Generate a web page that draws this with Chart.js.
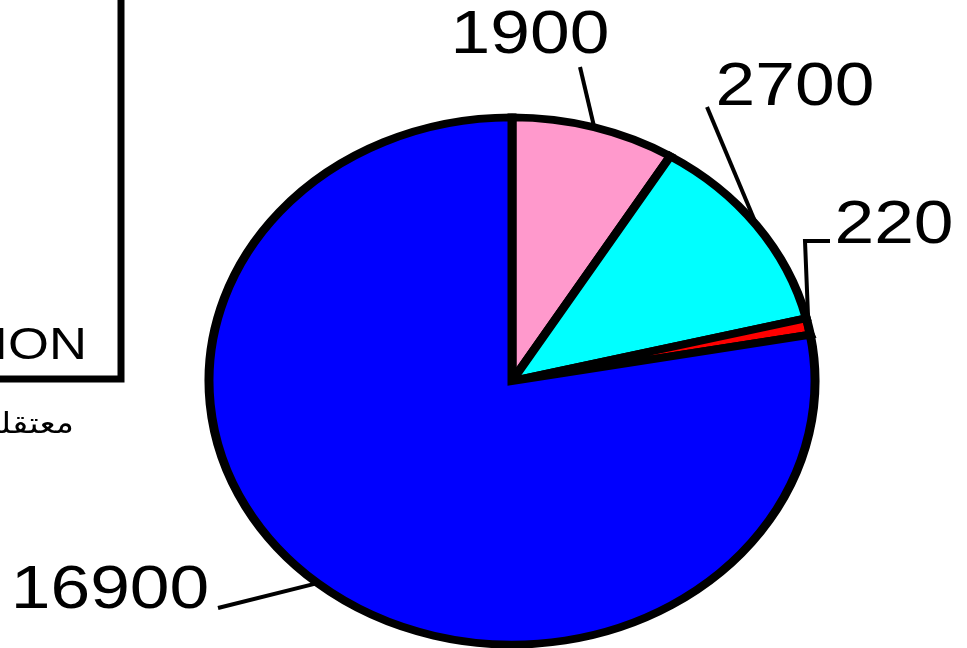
<!DOCTYPE html>
<html>
<head>
<meta charset="utf-8">
<script src="https://cdn.jsdelivr.net/npm/chart.js@4.4.0/dist/chart.umd.min.js"></script>
<style>
  html, body { margin: 0; padding: 0; background: #fff; overflow: hidden; }
  #wrap { width: 967px; height: 648px; position: relative; }
</style>
</head>
<body>
<div id="wrap"><canvas id="chart" width="967" height="648"></canvas></div>
<script>
const categories = ["1", "2", "3", "4"];
const values = [1900, 2700, 220, 16900];
const valueLabels = ["1900", "2700", "220", "16900"];
const colors = ["#FF99CC", "#00FFFF", "#FF0000", "#0000FF"];
const legendText = "ION";
const noteText = "معتقلين";

// where each value label sits (centre, baseline) and the leader path from the text to the slice
const labelPos = [
  { x: 530, y: 53, leader: [[580, 67]] },
  { x: 795, y: 105, leader: [[707, 107]] },
  { x: 894, y: 243, leader: [[830, 241], [805, 241]] },
  { x: 110, y: 608, leader: [[218, 608]] },
];

const squashY = 0.87;   // the pie is an ellipse in the picture
const stretchX = 1.17;  // text is stretched horizontally too

function wideText(ctx, text, x, y, font, align) {
  ctx.save();
  ctx.translate(x, y);
  ctx.scale(stretchX, 1);
  ctx.font = font;
  ctx.textAlign = align;
  ctx.textBaseline = "alphabetic";
  ctx.fillStyle = "#000";
  ctx.fillText(text, 0, 0);
  ctx.restore();
}

const squash = {
  id: "squash",
  beforeDatasetsDraw(chart) {
    const arc = chart.getDatasetMeta(0).data[0];
    const ctx = chart.ctx;
    ctx.save();
    ctx.translate(arc.x, arc.y);
    ctx.scale(1, squashY);
    ctx.translate(-arc.x, -arc.y);
  },
  afterDatasetsDraw(chart) {
    chart.ctx.restore();
  }
};

const annotate = {
  id: "annotate",
  afterDraw(chart) {
    const ctx = chart.ctx;
    const arcs = chart.getDatasetMeta(0).data;

    // leader lines + value labels
    arcs.forEach((arc, i) => {
      const p = labelPos[i];
      const mid = (arc.startAngle + arc.endAngle) / 2;
      const ax = arc.x + arc.outerRadius * Math.cos(mid);
      const ay = arc.y + arc.outerRadius * Math.sin(mid) * squashY;
      ctx.save();
      ctx.strokeStyle = "#000";
      ctx.lineWidth = 4;
      ctx.beginPath();
      ctx.moveTo(p.leader[0][0], p.leader[0][1]);
      p.leader.slice(1).forEach(pt => ctx.lineTo(pt[0], pt[1]));
      ctx.lineTo(ax, ay);
      ctx.stroke();
      ctx.restore();
      wideText(ctx, valueLabels[i], p.x, p.y, '61px "Liberation Sans", Arial, sans-serif', "center");
    });

    // legend box, mostly outside the picture
    ctx.save();
    ctx.strokeStyle = "#000";
    ctx.lineWidth = 7;
    ctx.strokeRect(-40, -40, 161, 419);
    ctx.restore();
    wideText(ctx, legendText, 87, 359, '45px "Liberation Sans", Arial, sans-serif', "right");

    ctx.save();
    ctx.direction = "rtl";
    wideText(ctx, noteText, 74, 433, '29px "DejaVu Sans", sans-serif', "right");
    ctx.restore();
  }
};

new Chart(document.getElementById("chart"), {
  type: "pie",
  data: {
    labels: categories,
    datasets: [{
      data: values,
      backgroundColor: colors,
      borderColor: "#000",
      borderWidth: 9,
      borderJoinStyle: "miter",
      clip: false
    }]
  },
  options: {
    responsive: false,
    animation: false,
    radius: 303,
    layout: { padding: { left: 57, right: 0, top: 114, bottom: 0 } },
    plugins: {
      legend: { display: false },
      tooltip: { enabled: false }
    }
  },
  plugins: [squash, annotate]
});
</script>
</body>
</html>
